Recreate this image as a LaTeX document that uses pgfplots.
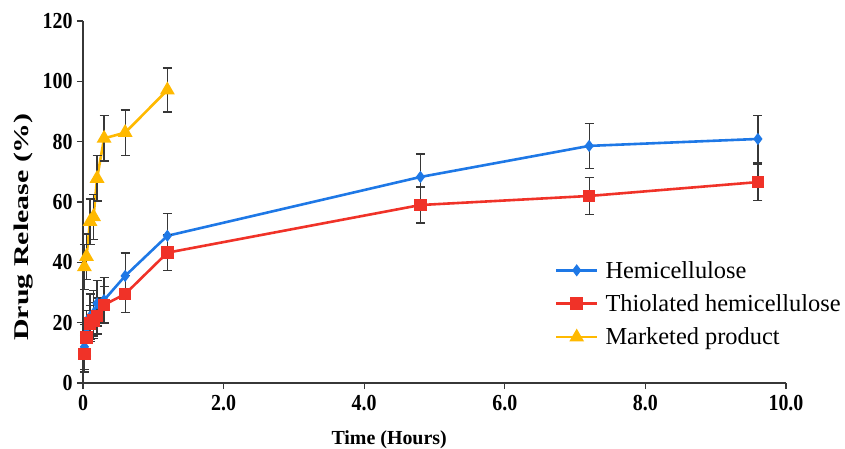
\documentclass[border=0pt]{standalone}
\usepackage{pgfplots}
\pgfplotsset{compat=1.18}
\usepackage{pgfplotstable}
\usepackage{fontspec}
\setmainfont{Liberation Serif}
\definecolor{cblue}{RGB}{30,120,230}
\definecolor{cred}{RGB}{240,50,40}
\definecolor{cyel}{RGB}{255,185,0}
\definecolor{cbar}{RGB}{55,55,55}

\pgfplotstableread{
t v e
0.02 12.0 7.5
0.05 16.5 7.5
0.10 22.0 7.5
0.15 23.1 7.5
0.20 26.4 7.5
0.30 27.5 7.5
0.60 35.5 7.6
1.20 48.8 7.5
4.80 68.3 7.6
7.20 78.6 7.5
9.60 80.9 7.7
}\hemi
\pgfplotstableread{
t v e
0.02 9.6 6.0
0.05 15.1 6.0
0.10 19.8 6.0
0.15 20.7 6.0
0.20 22.2 6.0
0.30 25.9 6.0
0.60 29.5 6.2
1.20 43.2 6.0
4.80 59.0 6.0
7.20 62.0 6.1
9.60 66.6 6.0
}\thio
\pgfplotstableread{
t v e
0.02 38.5 7.5
0.05 41.9 7.5
0.10 53.5 7.5
0.15 55.1 7.5
0.20 67.8 7.5
0.30 81.1 7.5
0.60 83.0 7.5
1.20 97.1 7.3
}\mark
\begin{document}
\begin{tikzpicture}
\begin{axis}[
  scale only axis, width=703bp, height=362bp,
  at={(0,0)}, anchor=south west,
  xmin=0, xmax=10, ymin=0, ymax=120,
  axis x line*=bottom, axis y line*=left,
  tick align=outside, major tick length=6bp,
  xtick={0,2,4,6,8,10}, xticklabels={0,2.0,4.0,6.0,8.0,10.0},
  ytick={0,20,40,60,80,100,120}, yticklabels={0,20,40,60,80,100,120},
  ticklabel style={font=\fontsize{20}{20}\selectfont\bfseries, yscale=1.15},
  yticklabel style={xshift=-1bp},
  xticklabel style={yshift=-1.5bp},
  axis line style={line width=1.3bp, cbar},
  tick style={line width=1.3bp, cbar},
  clip=false,
  xlabel={Time (Hours)},
  xlabel style={at={(axis description cs:0.4355,-0.171)}, anchor=base, font=\fontsize{20}{20}\selectfont\bfseries},
  ylabel={Drug Release (\%)},
  ylabel style={at={(axis description cs:-0.084,0.431)}, anchor=center, xscale=1.43, font=\fontsize{21}{21}\selectfont\bfseries},
  legend style={draw=none, fill=none, at={(axis description cs:0.671,0.34)}, anchor=north west,
    font=\fontsize{24.5}{24.5}\selectfont, row sep=13bp, inner sep=0pt,
    nodes={inner sep=1bp},
    /tikz/every odd column/.append style={column sep=6bp}},
  legend cell align=left,
  legend image code/.code={\draw[mark repeat=2,mark phase=2,#1] plot coordinates {(0bp,0bp) (20.5bp,0bp) (41bp,0bp)};},
  error bars/error bar style={line width=1.3bp, cbar},
  error bars/error mark options={rotate=90, line width=1.3bp, mark size=4.5bp, cbar},
]
\addplot[cblue, line width=2.6bp, mark=diamond*, mark size=4bp, mark options={solid, fill=cblue},
  error bars/.cd, y dir=both, y explicit] table[x=t, y=v, y error=e] {\hemi};
\addlegendentry{Hemicellulose}
\addplot[cred, line width=2.6bp, mark=square*, mark size=5bp, mark options={solid, fill=cred},
  error bars/.cd, y dir=both, y explicit] table[x=t, y=v, y error=e] {\thio};
\addlegendentry{Thiolated hemicellulose}
\addplot[cyel, line width=2.6bp, mark=triangle*, mark size=6bp, mark options={solid, fill=cyel},
  error bars/.cd, y dir=both, y explicit] table[x=t, y=v, y error=e] {\mark};
\addlegendentry{Marketed product}
\end{axis}
\pgfresetboundingbox
\path (-83bp,-66bp) rectangle (762bp,383bp);
\end{tikzpicture}
\end{document}
